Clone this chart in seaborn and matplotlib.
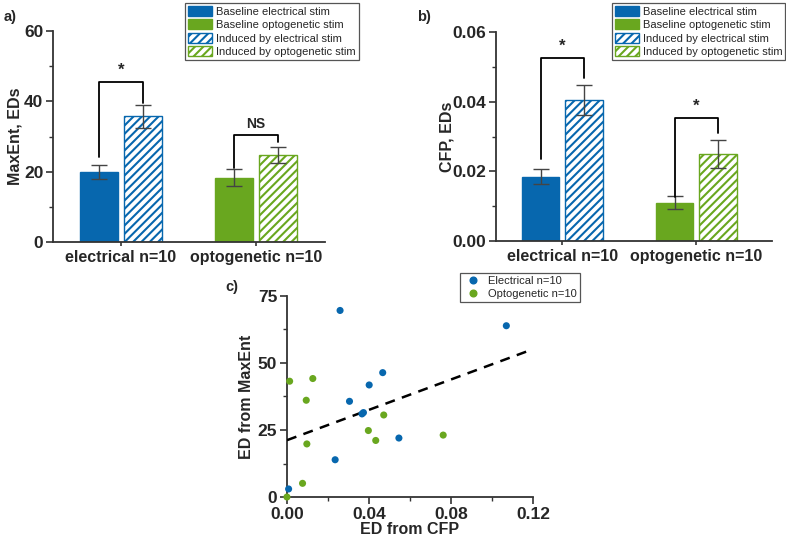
import numpy as np
import pandas as pd
import matplotlib
matplotlib.use("Agg")
import matplotlib.pyplot as plt
import seaborn as sns
from matplotlib.patches import Patch
from matplotlib.lines import Line2D
from matplotlib.ticker import MultipleLocator

# ── Data ───────────────────────────────────────────────────────────────────
GROUPS     = ["electrical n=10", "optogenetic n=10"]
CONDITIONS = ["Baseline", "Induced"]

# panel a: MaxEnt (order: elec, opto)
MAXENT_BASE     = [20.0, 18.3]
MAXENT_BASE_ERR = [2.0, 2.4]
MAXENT_IND      = [35.8, 24.7]
MAXENT_IND_ERR  = [3.3, 2.3]

# panel b: CFP
CFP_BASE     = [0.0185, 0.0110]
CFP_BASE_ERR = [0.0021, 0.0018]
CFP_IND      = [0.0405, 0.0250]
CFP_IND_ERR  = [0.0044, 0.0040]

# panel c: scatter
ELEC_CFP    = [0.0259, 0.1070, 0.0467, 0.0401, 0.0305, 0.0373, 0.0366, 0.0546, 0.0235, 0.0008]
ELEC_MAXENT = [69.6, 63.9, 46.4, 41.8, 35.7, 31.5, 31.0, 22.0, 13.9, 3.0]
OPTO_CFP    = [0.0013, 0.0126, 0.0094, 0.0097, 0.0076, 0.0000, 0.0472, 0.0397, 0.0433, 0.0762]
OPTO_MAXENT = [43.2, 44.2, 36.1, 19.8, 5.1, 0.0, 30.6, 24.8, 21.1, 23.1]
FIT_INTERCEPT = 21.2
FIT_SLOPE     = 283.0

LEGEND_LABELS = ["Baseline electrical stim", "Baseline optogenetic stim",
                 "Induced by electrical stim", "Induced by optogenetic stim"]

# significance brackets: (group, y_left, y_top, y_right, text)
BRACKETS_A = [(0, 24.2, 45.5, 39.6, "*"), (1, 21.0, 30.4, 28.5, "NS")]
BRACKETS_B = [(0, 0.0235, 0.0526, 0.0468, "*"), (1, 0.0127, 0.0352, 0.0310, "*")]

BLUE  = "#0767AE"
GREEN = "#69A71F"
DARK  = "#333333"

sns.set_theme(style="ticks")
plt.rcParams["font.family"] = ["Liberation Sans", "DejaVu Sans"]
plt.rcParams["hatch.linewidth"] = 1.5
plt.rcParams["axes.edgecolor"] = DARK
plt.rcParams["axes.linewidth"] = 1.3

fig = plt.figure(figsize=(7.86, 5.47), dpi=100)
ax_a = fig.add_axes([0.0674, 0.5576, 0.346, 0.3857])
ax_b = fig.add_axes([0.631, 0.5594, 0.351, 0.382])
ax_c = fig.add_axes([0.3651, 0.0914, 0.313, 0.3675])


def bar_panel(ax, base, base_err, ind, ind_err, brackets, ylim, ystep, yminor, fmt, xlim, ylabel, lab_x):
    df = pd.DataFrame({
        "group": GROUPS * 2,
        "condition": [CONDITIONS[0]] * 2 + [CONDITIONS[1]] * 2,
        "value": list(base) + list(ind),
    })
    sns.barplot(data=df, x="group", y="value", hue="condition", width=0.652, gap=0.14,
                errorbar=None, legend=False, ax=ax)
    bars = sorted([p for p in ax.patches if p.get_height() > 0], key=lambda p: p.get_x())
    colors = [BLUE, BLUE, GREEN, GREEN]
    errs = [base_err[0], ind_err[0], base_err[1], ind_err[1]]
    for i, (p, c, e) in enumerate(zip(bars, colors, errs)):
        if i % 2 == 0:
            p.set_facecolor(c); p.set_edgecolor(c)
        else:
            p.set_facecolor("white"); p.set_edgecolor(c); p.set_hatch("////")
        p.set_linewidth(1.0)
        cx = p.get_x() + p.get_width() / 2
        ax.errorbar(cx, p.get_height(), yerr=e, color="#444444", lw=1.0,
                    capsize=6, capthick=1.0, zorder=5)
    centers = [p.get_x() + p.get_width() / 2 for p in bars]
    for g, yl, yt, yr, txt in brackets:
        xl, xr = centers[2 * g], centers[2 * g + 1]
        ax.plot([xl, xl, xr, xr], [yl, yt, yt, yr], color="black", lw=1.3, zorder=6)
        ax.text((xl + xr) / 2, yt + (ylim[1] - ylim[0]) * 0.02, txt, ha="center", va="bottom",
                fontsize=12 if txt == "*" else 10, fontweight="bold")
    ax.set_xlim(*xlim)
    ax.set_ylim(*ylim)
    ax.yaxis.set_major_locator(MultipleLocator(ystep))
    ax.yaxis.set_minor_locator(MultipleLocator(yminor))
    ax.yaxis.set_major_formatter(matplotlib.ticker.FormatStrFormatter(fmt))
    ax.set_xlabel("")
    ax.set_ylabel(ylabel, fontsize=11.5, fontweight="bold")
    ax.yaxis.set_label_coords(lab_x, 0.5)
    ax.tick_params(axis="y", which="major", length=5, width=1.2, labelsize=12.5, pad=2, color=DARK)
    ax.tick_params(axis="y", which="minor", length=3, width=1.0, color=DARK)
    ax.tick_params(axis="x", length=3, width=1.2, labelsize=11.5, pad=3, color=DARK)
    for lab in ax.get_yticklabels() + ax.get_xticklabels():
        lab.set_fontweight("bold")
    sns.despine(ax=ax)


bar_panel(ax_a, MAXENT_BASE, MAXENT_BASE_ERR, MAXENT_IND, MAXENT_IND_ERR, BRACKETS_A,
          (0, 60), 20, 10, "%d", (-0.504, 1.51), "MaxEnt, EDs", -0.112)
bar_panel(ax_b, CFP_BASE, CFP_BASE_ERR, CFP_IND, CFP_IND_ERR, BRACKETS_B,
          (0, 0.06), 0.02, 0.01, "%.2f", (-0.496, 1.563), "CFP, EDs", -0.152)

# legends for bar panels
handles = [
    Patch(facecolor=BLUE, edgecolor=BLUE),
    Patch(facecolor=GREEN, edgecolor=GREEN),
    Patch(facecolor="white", edgecolor=BLUE, hatch="////"),
    Patch(facecolor="white", edgecolor=GREEN, hatch="////"),
]
for anchor in [(0.2354, 0.9945), (0.7786, 0.9945)]:
    leg = fig.legend(handles, LEGEND_LABELS, loc="upper left", bbox_to_anchor=anchor,
                     fontsize=8, frameon=True, fancybox=False, framealpha=1,
                     edgecolor="#555555", borderpad=0.25, labelspacing=0.22,
                     handlelength=2.2, handleheight=1.05, handletextpad=0.35,
                     borderaxespad=0)
    leg.get_frame().set_linewidth(0.9)

# panel c scatter
sc = pd.DataFrame({
    "cfp": ELEC_CFP + OPTO_CFP,
    "maxent": ELEC_MAXENT + OPTO_MAXENT,
    "group": ["Electrical n=10"] * len(ELEC_CFP) + ["Optogenetic n=10"] * len(OPTO_CFP),
})
sns.scatterplot(data=sc, x="cfp", y="maxent", hue="group",
                palette={"Electrical n=10": BLUE, "Optogenetic n=10": GREEN},
                s=26, linewidth=0, legend=False, ax=ax_c, clip_on=False, zorder=4)
xs = np.array([0.0, 0.12])
ax_c.plot(xs, FIT_INTERCEPT + FIT_SLOPE * xs, color="black", lw=1.8, ls=(0, (4, 3)), zorder=3)
ax_c.set_xlim(0, 0.12)
ax_c.set_ylim(0, 75)
ax_c.xaxis.set_major_locator(MultipleLocator(0.04))
ax_c.xaxis.set_minor_locator(MultipleLocator(0.02))
ax_c.yaxis.set_major_locator(MultipleLocator(25))
ax_c.yaxis.set_minor_locator(MultipleLocator(12.5))
ax_c.xaxis.set_major_formatter(matplotlib.ticker.FormatStrFormatter("%.2f"))
ax_c.set_xlabel("ED from CFP", fontsize=11.5, fontweight="bold")
ax_c.set_ylabel("ED from MaxEnt", fontsize=11.5, fontweight="bold")
ax_c.xaxis.set_label_coords(0.5, -0.125)
ax_c.yaxis.set_label_coords(-0.135, 0.5)
ax_c.tick_params(which="major", length=5, width=1.2, labelsize=12.5, pad=2, color=DARK)
ax_c.tick_params(which="minor", length=3, width=1.0, color=DARK)
for lab in ax_c.get_xticklabels() + ax_c.get_yticklabels():
    lab.set_fontweight("bold")
sns.despine(ax=ax_c)

sc_handles = [Line2D([], [], marker="o", ls="", color=BLUE, markersize=4.8),
              Line2D([], [], marker="o", ls="", color=GREEN, markersize=4.8)]
leg_c = fig.legend(sc_handles, ["Electrical n=10", "Optogenetic n=10"], loc="upper left",
                   bbox_to_anchor=(0.5852, 0.5009), fontsize=8, frameon=True, fancybox=False,
                   framealpha=1, edgecolor="#555555", borderpad=0.3, labelspacing=0.25,
                   handlelength=1.8, handletextpad=0.4, borderaxespad=0)
leg_c.get_frame().set_linewidth(0.9)

# panel letters
for x, y, t in [(0.004, 0.969, "a)"), (0.5305, 0.969, "b)"), (0.2863, 0.4753, "c)")]:
    fig.text(x, y, t, fontsize=10.5, fontweight="bold", va="center")

fig.savefig("out.png", dpi=100)
